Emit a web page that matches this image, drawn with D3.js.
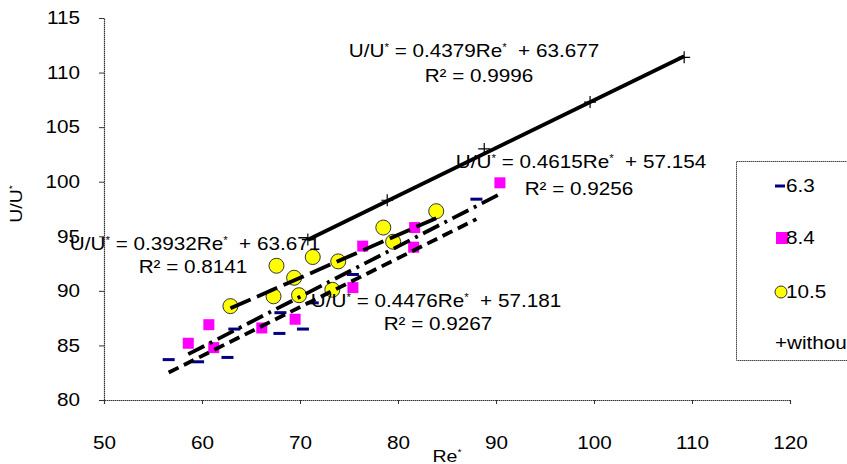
<!DOCTYPE html>
<html>
<head>
<meta charset="utf-8">
<script src="https://cdn.jsdelivr.net/npm/d3@7"></script>
<style>
  body { margin: 0; background: #fff; }
  svg { display: block; font-family: "Liberation Sans", Arial, sans-serif; }
  text { white-space: pre; }
</style>
</head>
<body>
<svg id="chart" width="847" height="464"></svg>
<script>

// tick values
var xTicks = [50, 60, 70, 80, 90, 100, 110, 120];
var yTicks = [80, 85, 90, 95, 100, 105, 110, 115];

// series 6.3
var re63 = [56.6, 59.6, 62.6, 63.3, 67.9, 68.0, 70.3, 71.3, 75.4, 88.0];
var u63  = [83.7, 83.5, 83.9, 86.5, 86.1, 88.0, 86.5, 88.9, 91.5, 98.4];

// series 8.4
var re84 = [58.6, 60.7, 61.2, 66.1, 69.5, 75.4, 76.4, 81.6, 81.7, 90.4];
var u84  = [85.2, 86.9, 84.8, 86.6, 87.4, 90.3, 94.1, 94.0, 95.8, 99.9];

// series 10.5
var re105 = [62.9, 67.3, 67.6, 69.4, 69.9, 71.3, 73.3, 73.9, 78.5, 79.5, 83.9];
var u105  = [88.6, 89.5, 92.3, 91.2, 89.6, 93.1, 90.1, 92.7, 95.8, 94.5, 97.3];

// series without
var reNo = [70.8, 78.9, 88.8, 99.6, 109.2];
var uNo  = [94.7, 98.3, 103.0, 107.3, 111.4];

// trendline fits (from the chart labels)
var slopes     = [0.4476, 0.4615, 0.3932, 0.4379];
var intercepts = [57.181, 57.154, 63.671, 63.677];
var r2s        = ["0.9267", "0.9256", "0.8141", "0.9996"];
var names      = ["6.3", "8.4", "10.5", "+without"];

var svg = d3.select("#chart");
var sx = 1.15;   // the original text is a bit stretched sideways
var fs = "18px";

var x = d3.scaleLinear().domain([50, 120]).range([104, 790]);
var y = d3.scaleLinear().domain([80, 115]).range([400, 18]);

var axisCol = "#333";

// axes
var xAxis = svg.append("g").attr("transform", "translate(0,400)")
  .call(d3.axisBottom(x).tickValues(xTicks).tickSize(4).tickFormat(d3.format("d")));
var yAxis = svg.append("g").attr("transform", "translate(104,0)")
  .call(d3.axisLeft(y).tickValues(yTicks).tickSize(5).tickFormat(d3.format("d")));

[xAxis, yAxis].forEach(function(a){
  a.select(".domain").attr("stroke", axisCol).attr("stroke-width", 1.2)
    .attr("stroke-dasharray", "1.5,0.5");
  a.selectAll(".tick line").attr("stroke", axisCol).attr("stroke-width", 1);
  a.selectAll(".tick text").attr("fill", "#000").style("font-size", fs)
    .style("font-family", "Liberation Sans, Arial, sans-serif")
    .attr("transform", "scale(" + sx + ",1)");
});
xAxis.selectAll(".tick text").attr("y", 36).attr("dy", "0.71em");
yAxis.selectAll(".tick text").attr("x", -24 / sx);

// text helper: centred, stretched sideways
function label(cx, cy, anchor) {
  return svg.append("g").attr("transform", "translate(" + cx + "," + cy + ") scale(" + sx + ",1)")
    .append("text").attr("text-anchor", anchor || "middle").style("font-size", fs);
}

// axis titles
var xt = label(447, 462).style("font-size", "17px").text("Re");
xt.append("tspan").attr("dy", -7).style("font-size", "9px").text("*");

var yt = svg.append("text").attr("transform", "translate(22,204) rotate(-90) scale(" + sx + ",1)")
  .attr("text-anchor", "middle").style("font-size", "17px").text("U/U");
yt.append("tspan").attr("dy", -7).style("font-size", "9px").text("*");

function pts(xs, ys) {
  return xs.map(function(d, i){ return {x: d, y: ys[i]}; });
}

// markers
svg.append("g").selectAll("rect").data(pts(re63, u63)).join("rect")
  .attr("x", function(d){ return x(d.x) - 6; })
  .attr("y", function(d){ return y(d.y) - 1.5; })
  .attr("width", 12).attr("height", 3)
  .attr("fill", "#000080");

svg.append("g").selectAll("rect").data(pts(re84, u84)).join("rect")
  .attr("x", function(d){ return x(d.x) - 5.5; })
  .attr("y", function(d){ return y(d.y) - 5.5; })
  .attr("width", 11).attr("height", 11)
  .attr("fill", "#ff00ff");

svg.append("g").selectAll("circle").data(pts(re105, u105)).join("circle")
  .attr("cx", function(d){ return x(d.x); })
  .attr("cy", function(d){ return y(d.y); })
  .attr("r", 7.5)
  .attr("fill", "#ffff00").attr("stroke", "#333").attr("stroke-width", 1);

svg.append("g").selectAll("path").data(pts(reNo, uNo)).join("path")
  .attr("d", function(d){
    var cx = x(d.x), cy = y(d.y);
    return "M" + (cx - 6) + "," + cy + "H" + (cx + 6) + "M" + cx + "," + (cy - 6) + "V" + (cy + 6);
  })
  .attr("stroke", "#000").attr("stroke-width", 1.2);

// trendlines
var allX = [re63, re84, re105, reNo];
var dashes = ["11,6", "18,6,3,6", "22,7", null];
allX.forEach(function(xs, i){
  var ext = d3.extent(xs);
  var line = svg.append("line")
    .attr("x1", x(ext[0])).attr("y1", y(slopes[i] * ext[0] + intercepts[i]))
    .attr("x2", x(ext[1])).attr("y2", y(slopes[i] * ext[1] + intercepts[i]))
    .attr("stroke", "#000").attr("stroke-width", 3.8);
  if (dashes[i]) line.attr("stroke-dasharray", dashes[i]);
});

// equation labels: [eq centre x, eq baseline, R² centre x, R² baseline]
var labelPos = [[436, 307, 438, 330], [581, 168, 579, 195], [195, 250, 193, 273], [474, 57, 479, 82]];
labelPos.forEach(function(p, i){
  var t = label(p[0], p[1]);
  t.append("tspan").text("U/U");
  t.append("tspan").attr("dy", -6).style("font-size", "10px").text("*");
  t.append("tspan").attr("dy", 6).text(" = " + slopes[i].toFixed(4) + "Re");
  t.append("tspan").attr("dy", -6).style("font-size", "10px").text("*");
  t.append("tspan").attr("dy", 6).text("  + " + intercepts[i].toFixed(3));
  label(p[2], p[3]).text("R\u00b2 = " + r2s[i]);
});

// legend
var lg = svg.append("g");
lg.append("rect").attr("x", 736.5).attr("y", 161.5).attr("width", 130).attr("height", 199)
  .attr("fill", "#fff").attr("stroke", "#444").attr("stroke-dasharray", "1.5,0.5");

var ly = [186, 238, 292, 343];
names.forEach(function(n, i){
  var cy = ly[i];
  if (i === 0) lg.append("rect").attr("x", 775).attr("y", cy - 1.5).attr("width", 10).attr("height", 3).attr("fill", "#000080");
  if (i === 1) lg.append("rect").attr("x", 776).attr("y", cy - 6).attr("width", 12).attr("height", 12).attr("fill", "#ff00ff");
  if (i === 2) lg.append("circle").attr("cx", 781).attr("cy", cy).attr("r", 6).attr("fill", "#ffff00").attr("stroke", "#333");
  label(i === 3 ? 775 : 786, cy + 6, "start").text(n);
});

</script>
</body>
</html>
